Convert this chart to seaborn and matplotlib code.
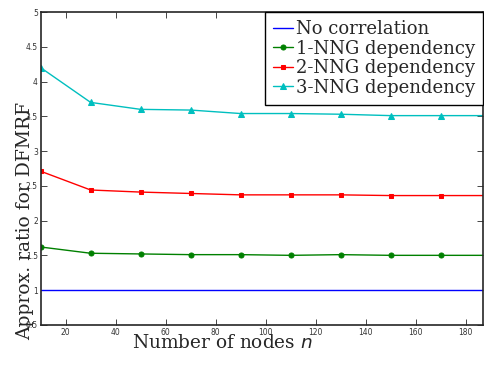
import pandas as pd
import seaborn as sns
import matplotlib.pyplot as plt

# data
nodes = [10, 30, 50, 70, 90, 110, 130, 150, 170, 190]
no_corr = [1, 1, 1, 1, 1, 1, 1, 1, 1, 1]
nng1 = [1.62, 1.53, 1.52, 1.51, 1.51, 1.50, 1.51, 1.50, 1.50, 1.50]
nng2 = [2.71, 2.44, 2.41, 2.39, 2.37, 2.37, 2.37, 2.36, 2.36, 2.36]
nng3 = [4.20, 3.70, 3.60, 3.59, 3.54, 3.54, 3.53, 3.51, 3.51, 3.51]

labels = ['No correlation', '1-NNG dependency', '2-NNG dependency', '3-NNG dependency']
colors = ['#0000ff', '#008000', '#ff0000', '#00bfbf']
markers = [None, 'o', 's', '^']
sizes = [0, 3.6, 3.4, 4.4]

sns.set_style('ticks')

fig = plt.figure(figsize=(4.84, 3.65), dpi=100)
ax = fig.add_axes([0.084, 0.11, 0.914, 0.857])

for vals, lab, col, mk, ms in zip([no_corr, nng1, nng2, nng3], labels, colors, markers, sizes):
    df = pd.DataFrame({'n': nodes, 'ratio': vals})
    sns.lineplot(data=df, x='n', y='ratio', ax=ax, color=col, marker=mk,
                 markersize=ms, markeredgecolor=col, linewidth=1, label=lab)

ax.set_xlim(10, 187)
ax.set_ylim(0.5, 5)
ax.set_xticks(range(20, 181, 20))
ax.set_yticks([0.5, 1, 1.5, 2, 2.5, 3, 3.5, 4, 4.5, 5])
ax.set_yticklabels(['0.5', '1', '1.5', '2', '2.5', '3', '3.5', '4', '4.5', '5'])
ax.tick_params(direction='in', top=True, right=True, labelsize=5.5, length=4, width=0.6,
               pad=2, labelcolor='#333333')
for s in ax.spines.values():
    s.set_linewidth(1.2)

ax.set_xlabel('Number of nodes $n$', family='DejaVu Serif', fontsize=13.3)
ax.set_ylabel('Approx. ratio for DFMRF', family='DejaVu Serif', fontsize=13.5)
ax.xaxis.set_label_coords(0.41, -0.028)
ax.yaxis.set_label_coords(-0.014, 0.332)

leg = ax.legend(loc='upper right', borderaxespad=0, handlelength=1.1, handletextpad=0.15,
                labelspacing=0.08, borderpad=0.45, fancybox=False, framealpha=1,
                prop={'family': 'DejaVu Serif', 'size': 13})
leg.get_frame().set_edgecolor('black')
leg.get_frame().set_linewidth(1.0)

fig.savefig('out.png', dpi=100)
